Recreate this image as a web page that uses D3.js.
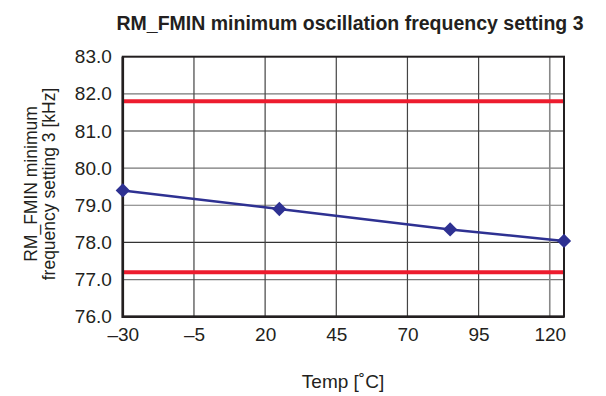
<!DOCTYPE html>
<html><head><meta charset="utf-8">
<script src="https://cdn.jsdelivr.net/npm/d3@7"></script>
<style>body{margin:0;background:#fff}svg{display:block}text{font-family:"Liberation Sans",Arial,sans-serif;fill:#231f20}</style>
</head><body><svg id="c" width="606" height="396"></svg>
<script>
const temps = [-30, 25, 85, 125];
const freq = [79.4, 78.9, 78.35, 78.04];
const upperLimit = 81.8;
const lowerLimit = 77.2;
const xTicks = [-30, -5, 20, 45, 70, 95, 120];
const yTicks = [76, 77, 78, 79, 80, 81, 82, 83];
const title = "RM_FMIN minimum oscillation frequency setting 3";
const xLabel = "Temp [˚C]";
const yLabel = ["RM_FMIN minimum", "frequency setting 3 [kHz]"];

const svg = d3.select("#c");
const m = {l:122.8, r:564, t:56.7, b:316.7};
const x = d3.scaleLinear().domain([-30,125]).range([m.l,m.r]);
const y = d3.scaleLinear().domain([76,83]).range([m.b,m.t]);

// grid
svg.append("g").selectAll("line").data(yTicks.slice(1,-1)).join("line")
  .attr("x1",m.l).attr("x2",m.r).attr("y1",d=>y(d)).attr("y2",d=>y(d))
  .attr("stroke",d=>(d===81||d===78)?"#333":"#777").attr("stroke-width",1.2);
svg.append("g").selectAll("line").data(xTicks.slice(1)).join("line")
  .attr("y1",m.t).attr("y2",m.b).attr("x1",d=>x(d)).attr("x2",d=>x(d))
  .attr("stroke",d=>d===120?"#888":"#444").attr("stroke-width",d=>d===120?1.6:1.2);

// limits
[upperLimit, lowerLimit].forEach(v=>{
  svg.append("line").attr("x1",m.l).attr("x2",m.r).attr("y1",y(v)).attr("y2",y(v))
    .attr("stroke","#ed1c2e").attr("stroke-width",4);
});

// frame
svg.append("rect").attr("x",m.l).attr("y",m.t).attr("width",m.r-m.l).attr("height",m.b-m.t)
  .attr("fill","none").attr("stroke","#231f20").attr("stroke-width",2);
svg.append("path").attr("d",`M${m.l},${m.t}V${m.b}H${m.r}`).attr("fill","none").attr("stroke","#231f20").attr("stroke-width",2.6);

// axes
const xa = d3.axisBottom(x).tickValues(xTicks).tickSize(0).tickPadding(11).tickFormat(d=>d<0?"\u2013"+Math.abs(d):d);
const gx = svg.append("g").attr("transform",`translate(0,${m.b})`).call(xa);
gx.select(".domain").remove();
gx.selectAll("text").attr("font-size",19).attr("font-family","Liberation Sans, Arial, sans-serif").attr("fill","#231f20");
const ya = d3.axisLeft(y).tickValues(yTicks).tickSize(0).tickPadding(11).tickFormat(d3.format(".1f"));
const gy = svg.append("g").attr("transform",`translate(${m.l},0)`).call(ya);
gy.select(".domain").remove();
gy.selectAll("text").attr("font-size",19).attr("font-family","Liberation Sans, Arial, sans-serif").attr("fill","#231f20");

// series
const pts = temps.map((t,i)=>[t,freq[i]]);
svg.append("path").datum(pts).attr("d",d3.line().x(d=>x(d[0])).y(d=>y(d[1])))
  .attr("fill","none").attr("stroke","#2e3192").attr("stroke-width",2.5);
svg.append("g").selectAll("path").data(pts).join("path")
  .attr("transform",d=>`translate(${x(d[0])},${y(d[1])})`)
  .attr("d",d3.symbol(d3.symbolDiamond2,130)).attr("fill","#2e3192");

// texts
svg.append("text").attr("x",350).attr("y",30).attr("text-anchor","middle")
  .attr("font-size",19.5).attr("font-weight","bold").text(title);
svg.append("text").attr("x",343).attr("y",388).attr("text-anchor","middle")
  .attr("font-size",19).text(xLabel);
const yl = svg.append("text").attr("transform","translate(0,184) rotate(-90)").attr("text-anchor","middle").attr("font-size",17.5);
yl.append("tspan").attr("x",0).attr("y",37).text(yLabel[0]);
yl.append("tspan").attr("x",0).attr("y",55).text(yLabel[1]);
</script></body></html>
